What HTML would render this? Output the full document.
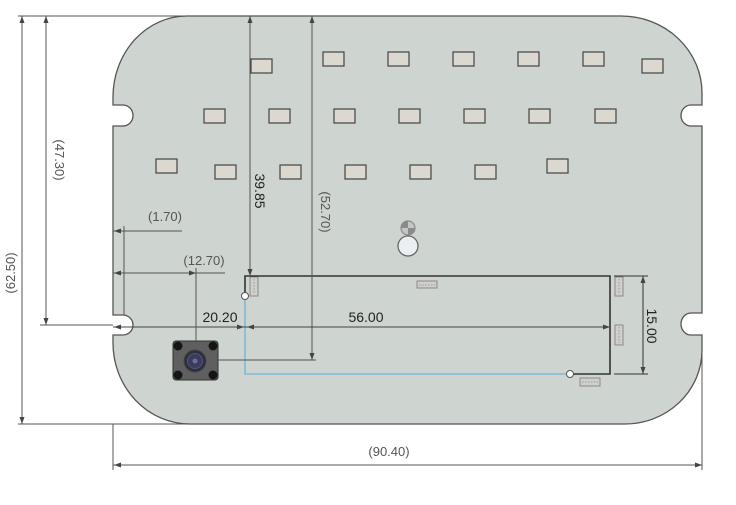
<!DOCTYPE html>
<html><head><meta charset="utf-8"><style>
html,body{margin:0;padding:0;background:#fff;}
svg{display:block;}
text{font-family:"Liberation Sans",sans-serif;}
</style></head><body>
<svg width="736" height="505" viewBox="0 0 736 505" xmlns="http://www.w3.org/2000/svg">
<!-- board -->
<path d="M187,16 L621,16 A81,77 0 0 1 702,93 L702,105 L691,105 A10,10.5 0 0 0 691,126 L702,126 L702,313 L691,313 A10,11 0 0 0 691,335 L702,335 L702,350 A77,74 0 0 1 625,424 L190,424 A77,81 0 0 1 113,343 L113,335 L123,335 A10,10 0 0 0 123,315 L113,315 L113,126 L123,126 A10,10.5 0 0 0 123,105 L113,105 L113,97 A74,81 0 0 1 187,16 Z" fill="#ced4cf" stroke="#555" stroke-width="1.3"/>

<!-- LEDs -->
<g fill="#dbd8cf" stroke="#444" stroke-width="1.2">
<rect x="251" y="59" width="21" height="14"/>
<rect x="323" y="52" width="21" height="14"/>
<rect x="388" y="52" width="21" height="14"/>
<rect x="453" y="52" width="21" height="14"/>
<rect x="518" y="52" width="21" height="14"/>
<rect x="583" y="52" width="21" height="14"/>
<rect x="642" y="59" width="21" height="14"/>
<rect x="204" y="109" width="21" height="14"/>
<rect x="269" y="109" width="21" height="14"/>
<rect x="334" y="109" width="21" height="14"/>
<rect x="399" y="109" width="21" height="14"/>
<rect x="464" y="109" width="21" height="14"/>
<rect x="529" y="109" width="21" height="14"/>
<rect x="595" y="109" width="21" height="14"/>
<rect x="156" y="159" width="21" height="14"/>
<rect x="215" y="165" width="21" height="14"/>
<rect x="280" y="165" width="21" height="14"/>
<rect x="345" y="165" width="21" height="14"/>
<rect x="410" y="165" width="21" height="14"/>
<rect x="475" y="165" width="21" height="14"/>
<rect x="547" y="159" width="21" height="14"/>
</g>

<!-- small connectors -->
<g fill="#cfcfcc" stroke="#8a8a8a" stroke-width="1">
<rect x="250" y="277" width="8" height="19"/>
<rect x="417" y="281" width="20" height="7"/>
<rect x="615" y="277" width="8" height="19"/>
<rect x="615" y="325" width="8" height="20"/>
<rect x="580" y="378" width="20" height="8"/>
</g>
<g stroke="#9a9a9a" stroke-width="1" stroke-dasharray="1.5,1.5">
<line x1="254" y1="279" x2="254" y2="294"/>
<line x1="419" y1="285" x2="435" y2="285"/>
<line x1="619" y1="279" x2="619" y2="294"/>
<line x1="619" y1="327" x2="619" y2="343"/>
<line x1="582" y1="382" x2="598" y2="382"/>
</g>

<!-- center hole & symbol -->
<circle cx="408" cy="246" r="10" fill="#eaeff3" stroke="#666" stroke-width="1.3"/>
<circle cx="408" cy="228" r="7" fill="#c4c6c4" stroke="#8a8a8a" stroke-width="1.2"/>
<path d="M408,228 L408,221 A7,7 0 0 0 401,228 Z" fill="#8a8a8a"/>
<path d="M408,228 L408,235 A7,7 0 0 0 415,228 Z" fill="#8a8a8a"/>

<!-- circuit outline -->
<path d="M245,293 L245,276 L610,276 L610,374 L573,374" fill="none" stroke="#333" stroke-width="1.6"/>
<path d="M245,299 L245,374 L567,374" fill="none" stroke="#7fbad8" stroke-width="1.6"/>
<circle cx="245" cy="296" r="3.5" fill="#fff" stroke="#555" stroke-width="1"/>
<circle cx="570" cy="374" r="3.5" fill="#fff" stroke="#555" stroke-width="1"/>

<!-- button -->
<rect x="173" y="341" width="45" height="39" rx="3" fill="#5f5f5f" stroke="#333" stroke-width="1"/>
<g fill="#151515">
<circle cx="178" cy="346" r="4.5"/>
<circle cx="213" cy="346" r="4.5"/>
<circle cx="178" cy="375" r="4.5"/>
<circle cx="213" cy="375" r="4.5"/>
</g>
<circle cx="195" cy="361" r="11" fill="#2e2e3e" stroke="#444" stroke-width="1"/>
<circle cx="195" cy="361" r="7.5" fill="#3b3b5c" stroke="#55557a" stroke-width="1"/>
<circle cx="195" cy="361" r="2.5" fill="#6d6d9a"/>

<!-- dimension lines -->
<g stroke="#555" stroke-width="1" fill="none">
<line x1="18" y1="16" x2="187" y2="16"/>
<line x1="18" y1="424" x2="190" y2="424"/>
<line x1="22" y1="16" x2="22" y2="424"/>
<line x1="46" y1="16" x2="46" y2="325"/>
<line x1="40" y1="325" x2="113" y2="325"/>
<line x1="250" y1="16" x2="250" y2="276"/>
<line x1="312" y1="16" x2="312" y2="360"/>
<line x1="218" y1="360" x2="316" y2="360"/>
<line x1="113" y1="327" x2="610" y2="327" stroke="#444"/>
<line x1="113" y1="231" x2="182" y2="231"/>
<line x1="124" y1="226" x2="124" y2="315"/>
<line x1="113" y1="273" x2="225" y2="273"/>
<line x1="196" y1="268" x2="196" y2="341"/>
<line x1="643" y1="276" x2="643" y2="374" stroke="#333"/>
<line x1="614" y1="276" x2="648" y2="276" stroke="#333"/>
<line x1="614" y1="374" x2="648" y2="374" stroke="#333"/>
<line x1="113" y1="424" x2="113" y2="470"/>
<line x1="702" y1="335" x2="702" y2="470"/>
<line x1="113" y1="465" x2="702" y2="465"/>
</g>

<!-- arrowheads -->
<g fill="#444">
<polygon points="22,16 19.5,23 24.5,23"/>
<polygon points="22,424 19.5,417 24.5,417"/>
<polygon points="46,16 43.5,23 48.5,23"/>
<polygon points="46,325 43.5,318 48.5,318"/>
<polygon points="250,16 247.5,23 252.5,23"/>
<polygon points="250,276 247.5,269 252.5,269"/>
<polygon points="312,16 309.5,23 314.5,23"/>
<polygon points="312,360 309.5,353 314.5,353"/>
<polygon points="114,327 121,324.5 121,329.5"/>
<polygon points="244,327 237,324.5 237,329.5"/>
<polygon points="247,327 254,324.5 254,329.5"/>
<polygon points="610,327 603,324.5 603,329.5"/>
<polygon points="114,231 121,228.5 121,233.5"/>
<polygon points="114,273 121,270.5 121,275.5"/>
<polygon points="196,273 189,270.5 189,275.5"/>
<polygon points="643,276 640.5,283 645.5,283"/>
<polygon points="643,374 640.5,367 645.5,367"/>
<polygon points="114,465 121,462.5 121,467.5"/>
<polygon points="702,465 695,462.5 695,467.5"/>
</g>

<!-- labels -->
<g font-size="13" fill="#555">
<text x="165" y="221" text-anchor="middle">(1.70)</text>
<text x="204" y="265" text-anchor="middle">(12.70)</text>
<text x="389" y="456" text-anchor="middle">(90.40)</text>
<text transform="translate(15,273) rotate(-90)" text-anchor="middle">(62.50)</text>
<text transform="translate(55,160) rotate(90)" text-anchor="middle">(47.30)</text>
<text transform="translate(321,212) rotate(90)" text-anchor="middle">(52.70)</text>
</g>
<g font-size="14" fill="#222">
<text x="220" y="322" text-anchor="middle">20.20</text>
<text x="366" y="322" text-anchor="middle">56.00</text>
<text transform="translate(255,191) rotate(90)" text-anchor="middle">39.85</text>
<text transform="translate(647,326) rotate(90)" text-anchor="middle">15.00</text>
</g>
</svg>
</body></html>
